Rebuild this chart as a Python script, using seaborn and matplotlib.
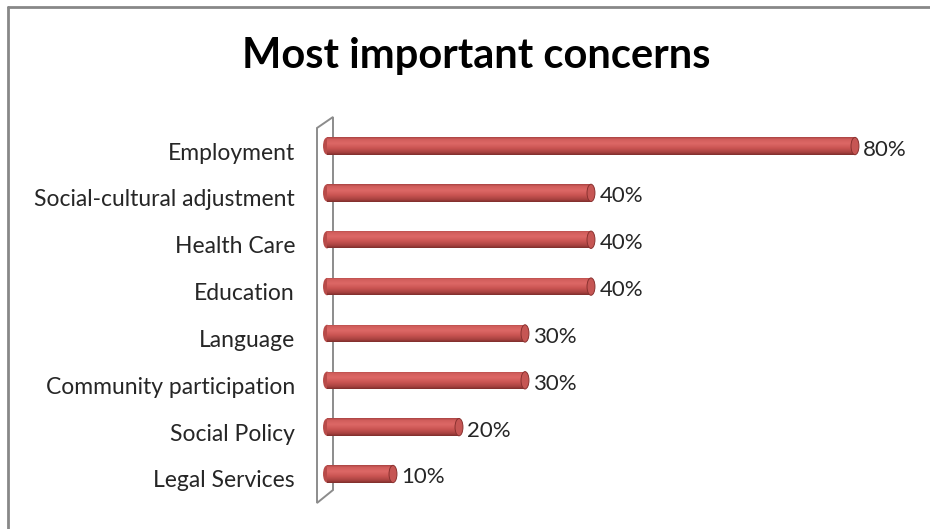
import numpy as np
import pandas as pd
import matplotlib
matplotlib.use("Agg")
import matplotlib.pyplot as plt
from matplotlib.colors import LinearSegmentedColormap
from matplotlib.patches import Ellipse, Polygon
from matplotlib.transforms import ScaledTranslation
import seaborn as sns

# Survey results: share of respondents naming each concern
categories = [
    "Employment",
    "Social-cultural adjustment",
    "Health Care",
    "Education",
    "Language",
    "Community participation",
    "Social Policy",
    "Legal Services",
]
shares = [0.80, 0.40, 0.40, 0.40, 0.30, 0.30, 0.20, 0.10]
title = "Most important concerns"

df = pd.DataFrame({"concern": categories, "share": shares})

sns.set_theme(style="white")
plt.rcParams["font.family"] = ["Lato", "DejaVu Sans"]

fig = plt.figure(figsize=(9.30, 5.29), dpi=100)
W, H = 930.0, 529.0

# side wall of the 3-D plot area, drawn beneath the axes
wall = [(317, 128), (333, 117), (333, 490), (317, 503)]
fig.add_artist(Polygon([(x / W, 1 - y / H) for x, y in wall], closed=True,
                       transform=fig.transFigure, facecolor="white",
                       edgecolor="#8C8C8C", lw=1.4, zorder=0))

ax = fig.add_axes([0.3516, 0.0597, 0.6387, 0.7085])
ax.set_zorder(2)

bar_w = 0.37
sns.barplot(data=df, y="concern", x="share", orient="h", width=bar_w,
            color="#C0504D", ax=ax, zorder=3)

# cylinder shading: vertical gradient clipped to each bar
shade = LinearSegmentedColormap.from_list(
    "cyl",
    [(0.0, "#A94443"), (0.12, "#D15E5C"), (0.35, "#DD6866"),
     (0.6, "#CC5654"), (0.85, "#AA4341"), (1.0, "#7E2E2C")])
grad = np.linspace(0, 1, 64).reshape(-1, 1)
for patch in list(ax.patches):
    x0, y0 = patch.get_x(), patch.get_y()
    w, h = patch.get_width(), patch.get_height()
    img = ax.imshow(grad, extent=[x0, x0 + w, y0 + h, y0], aspect="auto",
                    cmap=shade, zorder=4, interpolation="bilinear")
    img.set_clip_path(patch)
    patch.set_edgecolor("none")

# rounded ends of the cylinders and value labels
cap_w = 0.012
for i, v in enumerate(shares):
    ax.add_patch(Ellipse((0, i), cap_w, bar_w, facecolor="#B84B49",
                         edgecolor="none", zorder=2.5, clip_on=False))
    ax.add_patch(Ellipse((v, i), cap_w, bar_w, facecolor="#C65654",
                         edgecolor="#8A3230", lw=0.7, zorder=5))
    ax.annotate(f"{v:.0%}", xy=(v, i), xytext=(6, -2.5), textcoords="offset points",
                ha="left", va="center", fontsize=16, color="#262626")

ax.set_xlim(0, 0.9)
ax.set_ylim(len(categories) - 0.5, -0.5)
ax.set_xlabel("")
ax.set_ylabel("")
ax.set_xticks([])
ax.tick_params(axis="y", length=0, pad=23, labelsize=16.5, labelcolor="#262626")
shift = ScaledTranslation(0, -5 / 100, fig.dpi_scale_trans)
for lab in ax.get_yticklabels():
    lab.set_transform(lab.get_transform() + shift)
for s in ax.spines.values():
    s.set_visible(False)
ax.patch.set_alpha(0)

# chart frame (top and left edges)
fig.add_artist(plt.Line2D([7.5 / W, 7.5 / W], [0, 1 - 6.5 / H],
                          transform=fig.transFigure, color="#888888", lw=2))
fig.add_artist(plt.Line2D([7.5 / W, 1], [1 - 6.5 / H, 1 - 6.5 / H],
                          transform=fig.transFigure, color="#888888", lw=2))

fig.text(0.512, 1 - 56 / H, title, ha="center", va="center",
         fontsize=30, fontweight="bold", color="black")

fig.savefig("out.png", dpi=100)
